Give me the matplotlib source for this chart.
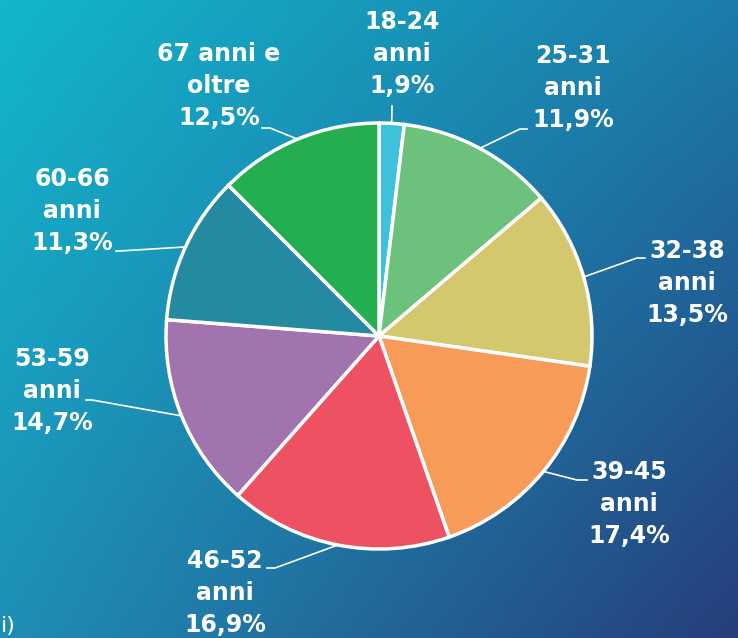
import numpy as np
import matplotlib
matplotlib.use("Agg")
import matplotlib.pyplot as plt
from matplotlib.collections import LineCollection

W, H = 738, 638

# data
fasce = ["18-24\nanni", "25-31\nanni", "32-38\nanni", "39-45\nanni",
         "46-52\nanni", "53-59\nanni", "60-66\nanni", "67 anni e\noltre"]
percentuali = [1.9, 11.9, 13.5, 17.4, 16.9, 14.7, 11.3, 12.5]
etichette_pct = ["1,9%", "11,9%", "13,5%", "17,4%", "16,9%", "14,7%", "11,3%", "12,5%"]
colori = ["#3EC1DA", "#6CC27C", "#D4C86E", "#F89B58",
          "#EE5262", "#A173AF", "#238A9F", "#25AE50"]

# layout in pixel (x, y from top): text centre, elbow, end of leader
pos_testo = [(402, 54), (573, 88), (687, 283), (629, 504),
             (225, 593), (52, 391), (72, 211), (219, 86)]
gomito = [(392, 106), (520, 129), (637, 258), (577, 480),
          (275, 568), (92, 400), (120, 251), (270, 128)]
fine = [(392, 106), (527, 129), (645, 258), (587, 480),
        (267, 568), (86, 400), (116, 251), (262, 128)]

cx, cy, R = 379, 336, 213

def py(y):
    return H - y

fig = plt.figure(figsize=(W / 100, H / 100), dpi=100)
ax = fig.add_axes([0, 0, 1, 1])

# background gradient (bilinear between corners)
tl = np.array([16, 182, 204]) / 255
tr = np.array([26, 122, 170]) / 255
bl = np.array([28, 142, 182]) / 255
br = np.array([36, 60, 122]) / 255
u = np.linspace(0, 1, 200)[None, :, None]
v = np.linspace(0, 1, 180)[:, None, None]
grad = (1 - v) * ((1 - u) * tl + u * tr) + v * ((1 - u) * bl + u * br)
ax.imshow(grad, extent=[0, W, 0, H], origin="upper", aspect="auto", zorder=0)

# subtle diagonal stripes
segs = []
for c in np.arange(-H, W + H, 4):
    segs.append([(c, 0), (c + H, H)])
ax.add_collection(LineCollection(segs, colors="white", linewidths=0.6, alpha=0.035, zorder=1))

wedges, _ = ax.pie(percentuali, colors=colori, startangle=90, counterclock=False,
                   center=(cx, py(cy)), radius=R, frame=True,
                   wedgeprops=dict(edgecolor="white", linewidth=2.5))
for w in wedges:
    w.set_zorder(3)

for i, w in enumerate(wedges):
    a = np.deg2rad((w.theta1 + w.theta2) / 2)
    x0, y0 = cx + R * np.cos(a), py(cy) + R * np.sin(a)
    xs = [x0, gomito[i][0], fine[i][0]]
    ys = [y0, py(gomito[i][1]), py(fine[i][1])]
    ax.plot(xs, ys, color="white", lw=1.2, zorder=2)
    tx, ty = pos_testo[i]
    ax.text(tx, py(ty), fasce[i] + "\n" + etichette_pct[i], color="white",
            fontsize=17, fontweight="bold", family="DejaVu Sans",
            ha="center", va="center", multialignment="center",
            linespacing=1.42, zorder=4)

ax.text(1, py(626), "i)", color="white", fontsize=16, family="DejaVu Sans",
        ha="left", va="center", zorder=4)

ax.set_xlim(0, W)
ax.set_ylim(0, H)
ax.set_aspect("auto")
ax.axis("off")

fig.savefig("out.png", dpi=100)
